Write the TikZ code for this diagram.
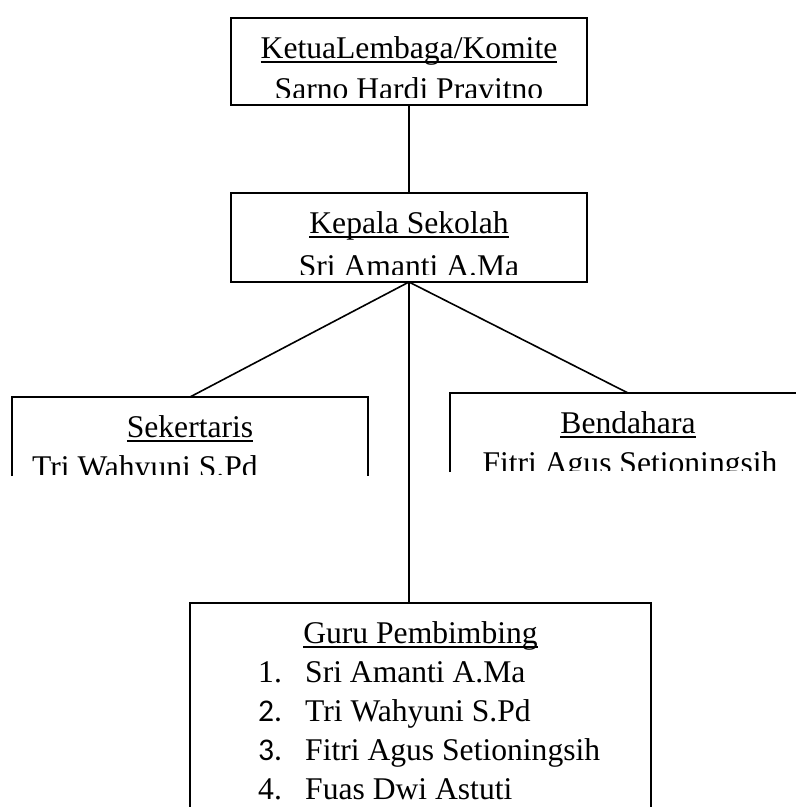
\documentclass[tikz,border=0pt]{standalone}
\usepackage{fontspec}
\setmainfont{Liberation Serif}
\newfontfamily\numfont{Carlito}
\newcommand\ulhead[1]{\setbox0\hbox{#1}\rlap{\rule[-4.5pt]{\wd0}{1.5pt}}\box0}

\begin{document}
\begin{tikzpicture}[
          x=1pt, y=-1pt,
          frame/.style={rectangle, inner sep=0pt, outer sep=0pt},
          closed/.style={frame, draw=black, line width=1.6pt},
          openline/.style={draw=black, line width=1.6pt},
          link/.style={draw=black, line width=1.6pt},
          txt/.style={inner sep=0pt, font=\fontsize{31.6}{38}\selectfont}
        ]
        \useasboundingbox (0,0) rectangle (796,807);
        % ketua
        \node[closed, minimum width=356pt, minimum height=87pt] (ketua) at (409,61.5) {};
        \node[txt, anchor=base] (ketuaHead) at (409,58) {\ulhead{KetuaLembaga/Komite}};
        \begin{scope}
          \clip (231,18) rectangle (587,97);
          \node[txt, anchor=base] (ketuaName) at (409,99) {Sarno Hardi Pravitno};
        \end{scope}
        % kepala sekolah
        \node[closed, minimum width=356pt, minimum height=89pt] (kepala) at (409,237.5) {};
        \node[txt, anchor=base] (kepalaHead) at (409,233) {\ulhead{Kepala Sekolah}};
        \begin{scope}
          \clip (231,193) rectangle (587,274);
          \node[txt, anchor=base] (kepalaName) at (409,276) {Sri Amanti A.Ma};
        \end{scope}
        % sekertaris
        \node[frame, minimum width=356pt, minimum height=79pt] (sekretaris) at (190,436.5) {};
        \draw[openline] (sekretaris.south west) |- (sekretaris.north east) -- (sekretaris.south east);
        \node[txt, anchor=base] (sekretarisHead) at (190,437) {\ulhead{Sekertaris}};
        \begin{scope}
          \clip (12,397) rectangle (368,474);
          \node[txt, anchor=base west] (sekretarisName) at (32,477) {Tri Wahyuni S.Pd};
        \end{scope}
        % bendahara
        \node[frame, minimum width=356pt, minimum height=79pt] (bendahara) at (628,432.5) {};
        \draw[openline] (bendahara.south west) |- (bendahara.north east) -- (bendahara.south east);
        \node[txt, anchor=base] (bendaharaHead) at (628,433) {\ulhead{Bendahara}};
        \begin{scope}
          \clip (450,393) rectangle (806,470);
          \node[txt, anchor=base] (bendaharaName) at (630,473) {Fitri Agus Setioningsih};
        \end{scope}
        % guru pembimbing
        \node[frame, minimum width=461pt, minimum height=209pt] (guru) at (420.5,707.5) {};
        \draw[openline] (guru.south west) |- (guru.north east) -- (guru.south east);
        \node[txt, anchor=base] (guruHead) at (420.5,643) {\ulhead{Guru Pembimbing}};
        \node[txt, anchor=base west] (numA) at (258,682) {1.};
        \node[txt, anchor=base west] (itemA) at (305,682) {Sri Amanti A.Ma};
        \node[txt, anchor=base west] (numB) at (258,721) {\numfont 2.};
        \node[txt, anchor=base west] (itemB) at (305,721) {Tri Wahyuni S.Pd};
        \node[txt, anchor=base west] (numC) at (258,760) {\numfont 3.};
        \node[txt, anchor=base west] (itemC) at (305,760) {Fitri Agus Setioningsih};
        \node[txt, anchor=base west] (numD) at (258,799) {4.};
        \node[txt, anchor=base west] (itemD) at (305,799) {Fuas Dwi Astuti};
        % connectors
        \draw[link] (ketua.south) -- (kepala.north);
        \draw[link] (kepala.south) -- (sekretaris.north);
        \draw[link] (kepala.south) -- (bendahara.north);
        \draw[link] (kepala.south) -- (kepala.south |- guru.north);
      \end{tikzpicture}
\end{document}
